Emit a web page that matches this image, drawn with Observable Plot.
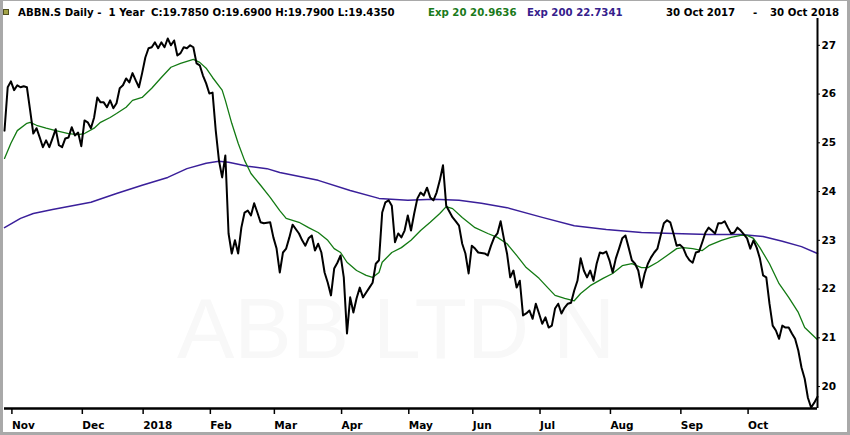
<!DOCTYPE html>
<html><head><meta charset="utf-8">
<script src="https://cdn.jsdelivr.net/npm/d3@7"></script>
<script src="https://cdn.jsdelivr.net/npm/@observablehq/plot@0.6"></script>
<style>
body{margin:0;background:#fff;}
#wrap{position:relative;width:850px;height:435px;overflow:hidden;background:#fff;font-family:"DejaVu Sans",sans-serif;}
#hdr{position:relative;height:18px;}
#hdr span{position:absolute;top:7px;font-size:10.2px;font-weight:bold;white-space:pre;line-height:12px;color:#000;}
#icon{position:absolute;left:3px;top:9px;width:4px;height:4px;background:#a4a448;border:1px solid #505020;}
#border{position:absolute;left:0;top:0;width:850px;height:435px;box-sizing:border-box;border-style:solid;border-color:#a9a9a9;border-width:1px 3px 3px 3px;pointer-events:none;}
#chart svg{display:block;}
</style></head>
<body>
<div id="wrap">
  <div id="hdr">
    <div id="icon"></div>
    <span style="left:18px">ABBN.S Daily -  1 Year</span>
    <span style="left:151px">C:19.7850 O:19.6900 H:19.7900 L:19.4350</span>
    <span style="left:428px;color:#1a7a1a">Exp 20 20.9636</span>
    <span style="left:527px;color:#35208c">Exp 200 22.7341</span>
    <span style="left:666px">30 Oct 2017</span>
    <span style="left:753px">-</span>
    <span style="left:770px">30 Oct 2018</span>
  </div>
  <div id="chart"></div>
  <div id="border"></div>
</div>
<script>
// Trading-session index (0 = 30 Oct 2017, 254 = 30 Oct 2018) and daily closes
const priceDay = [0,1,2,3,4,5,6,7,8,9,10,11,12,13,14,15,16,17,18,19,20,21,22,23,24,25,26,27,28,29,
30,31,32,33,34,35,36,37,38,39,40,41,42,43,44,45,46,47,48,49,50,51,52,53,54,55,56,57,58,59,
60,61,62,63,64,65,66,67,68,69,70,71,72,73,74,75,76,77,78,79,80,81,83,84,85,86,87,88,89,90,
92,93,94,95,96,97,98,99,100,101,102,103,104,105,106,107,108,109,110,111,112,113,114,115,116,117,118,119,
120,121,122,123,124,125,126,127,128,129,130,131,132,133,134,135,136,137,138,140,141,142,143,144,145,146,147,148,
150,151,152,153,154,155,156,157,158,159,160,161,162,163,164,165,166,167,168,169,170,171,172,173,174,175,176,177,178,179,
180,181,182,183,184,185,186,187,188,189,190,191,192,193,194,195,196,197,198,199,200,201,202,203,204,205,206,207,208,209,
210,211,212,213,214,215,216,217,218,219,220,221,222,223,224,225,226,227,228,229,230,231,232,233,234,235,236,237,238,239,
240,241,242,243,244,245,246,247,248,249,250,251,252,253,254];
const priceClose = [25.25,26.14,26.26,26.08,26.18,26.14,26.16,26.14,25.67,25.19,25.30,25.11,24.91,25.05,24.91,25.09,25.28,24.95,24.91,25.09,25.11,25.32,25.15,25.21,24.93,25.46,25.42,25.30,25.52,25.93,
25.83,25.83,25.73,25.87,25.71,25.81,26.12,26.18,26.32,26.24,26.43,26.28,26.14,26.43,26.75,26.94,26.96,27.06,26.94,27.06,26.96,27.14,27.00,27.10,26.79,26.84,26.96,26.94,27.00,26.96,
26.63,26.59,26.38,26.22,26.01,26.03,25.25,24.64,24.29,24.74,23.14,22.73,23.00,22.73,23.26,23.57,23.61,23.51,23.76,23.57,23.37,23.35,23.37,23.06,22.83,22.34,22.75,22.83,23.06,23.32,
23.14,23.00,22.89,23.04,23.10,22.79,22.93,22.75,22.34,22.13,21.87,22.42,22.54,22.69,22.24,21.09,21.83,21.52,21.81,22.03,21.83,21.93,22.03,22.13,22.52,22.59,23.57,23.78,
23.82,23.71,22.96,23.14,23.06,23.20,23.51,23.20,23.55,23.86,23.98,23.92,24.08,23.88,23.82,23.98,24.23,24.54,23.71,23.47,23.39,23.30,22.93,22.73,22.32,22.89,22.83,22.75,
22.73,22.69,22.89,23.06,23.14,23.39,23.04,22.73,22.24,22.38,22.03,22.17,21.46,21.50,21.56,21.39,21.70,21.50,21.29,21.42,21.21,21.25,21.60,21.70,21.50,21.62,21.70,21.72,21.97,22.17,
22.63,22.38,22.24,22.38,22.17,22.52,22.75,22.73,22.77,22.59,22.34,22.63,22.83,23.04,23.10,22.85,22.59,22.52,22.38,22.03,22.32,22.52,22.65,22.75,22.83,23.10,23.35,23.41,23.37,23.14,
22.89,22.91,22.85,22.69,22.59,22.54,22.75,22.77,22.96,23.16,23.26,23.20,23.14,23.35,23.35,23.39,23.26,23.14,23.16,23.26,23.20,23.12,23.04,22.83,23.00,22.85,22.63,22.28,22.24,21.70,
21.25,21.15,20.98,21.25,21.21,21.21,21.09,20.98,20.74,20.39,20.16,19.77,19.57,19.67,19.79];

// Exponential moving average, 20 sessions
const ema20Day = [0,2,4,7,8,10,13,16,20,23,25,28,30,33,35,38,40,43,46,49,52,55,57,59,61,63,65,68,69,71,
73,75,77,80,83,86,88,92,95,98,101,103,105,107,110,113,115,117,118,121,124,127,130,133,136,138,140,143,147,151,
154,157,160,163,167,170,172,175,178,180,183,187,190,193,196,199,201,204,207,210,212,215,218,220,224,227,230,232,234,236,
239,242,245,248,250,254];
const ema20Value = [24.68,24.99,25.25,25.40,25.42,25.36,25.30,25.25,25.19,25.17,25.19,25.30,25.42,25.52,25.60,25.73,25.87,25.93,26.12,26.34,26.55,26.63,26.67,26.71,26.65,26.53,26.34,26.08,25.87,25.40,
24.99,24.64,24.37,24.13,23.88,23.61,23.45,23.37,23.26,23.16,23.00,22.83,22.75,22.55,22.38,22.28,22.24,22.34,22.55,22.75,22.85,23.00,23.20,23.37,23.55,23.69,23.65,23.47,23.26,23.14,
23.06,22.93,22.69,22.44,22.22,22.01,21.87,21.81,21.76,21.91,22.07,22.22,22.32,22.48,22.52,22.44,22.44,22.55,22.69,22.83,22.85,22.83,22.79,22.89,23.00,23.06,23.10,23.10,23.04,22.85,
22.52,22.11,21.83,21.52,21.21,20.96];

// Exponential moving average, 200 sessions
const ema200Day = [0,5,9,15,27,35,43,51,57,63,67,70,76,82,86,98,108,117,126,134,142,149,157,168,178,188,199,209,220,230,237,243,249,254];
const ema200Value = [23.26,23.45,23.55,23.63,23.78,23.96,24.13,24.29,24.47,24.58,24.62,24.60,24.52,24.47,24.39,24.23,24.02,23.86,23.82,23.84,23.82,23.76,23.67,23.47,23.30,23.22,23.16,23.14,23.12,23.12,23.08,22.98,22.87,22.73];

// Month ticks (session index of first session of each month) and labels
const monthTickDay = [2,24,43,64,84,105,126,146,167,189,211,232];
const monthTickLabel = ["Nov","Dec","2018","Feb","Mar","Apr","May","Jun","Jul","Aug","Sep","Oct"];
const priceTicks = [20,21,22,23,24,25,26,27];
const watermark = ["ABB LTD N"];

const price = priceDay.map((d, i) => ({day: d, value: priceClose[i]}));
const ema20 = ema20Day.map((d, i) => ({day: d, value: ema20Value[i]}));
const ema200 = ema200Day.map((d, i) => ({day: d, value: ema200Value[i]}));
const labelOf = new Map(monthTickDay.map((d, i) => [d, monthTickLabel[i]]));
const xDomain = [0, 254];
const yDomain = [19.55, 27.55];

const chart = Plot.plot({
  width: 850, height: 417,
  marginLeft: 4, marginRight: 33, marginTop: 0, marginBottom: 27,
  style: {fontFamily: "DejaVu Sans", fontSize: "10.5px", fontWeight: "bold", background: "transparent", color: "#000", overflow: "visible"},
  x: {domain: xDomain, label: null},
  y: {domain: yDomain, label: null},
  marks: [
    Plot.text(watermark, {text: d => d, frameAnchor: "middle", dx: -15, dy: 117, fontSize: 86, fill: "#f8f8f8", fontFamily: "Liberation Sans", fontWeight: "normal", ariaLabel: "watermark"}),
    Plot.line(ema200, {x: "day", y: "value", stroke: "#3a1f9a", strokeWidth: 1.5}),
    Plot.line(ema20, {x: "day", y: "value", stroke: "#137a13", strokeWidth: 1.3}),
    Plot.line(price, {x: "day", y: "value", stroke: "#000", strokeWidth: 2}),
    Plot.ruleY([yDomain[0]], {stroke: "#000", strokeWidth: 2.5}),
    Plot.ruleX([xDomain[1]], {stroke: "#000", strokeWidth: 2}),
    Plot.axisX({ticks: monthTickDay, tickFormat: d => labelOf.get(d), tickSize: 6, tickPadding: 7, textAnchor: "start", dx: 1, strokeWidth: 1.5, label: null}),
    Plot.axisY({anchor: "right", ticks: priceTicks, tickSize: 2, tickPadding: 2, tickFormat: d => String(d), label: null})
  ]
});
const wm = chart.querySelector('g[aria-label="watermark"]');
if (wm) wm.style.letterSpacing = "-5px";
document.getElementById("chart").appendChild(chart);
</script>
</body></html>
